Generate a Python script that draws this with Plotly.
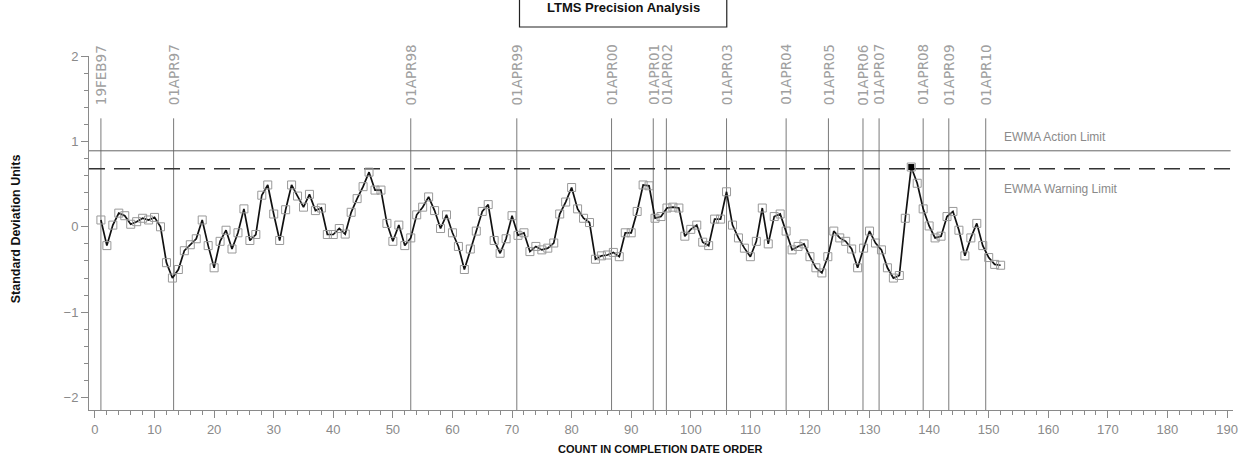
import plotly.graph_objects as go

# ---------------- data ----------------
counts = list(range(1, 153))
ewma = [
    0.08, -0.22, 0.02, 0.16, 0.13, 0.03, 0.06, 0.10, 0.08, 0.11,
    0.00, -0.42, -0.60, -0.50, -0.28, -0.21, -0.14, 0.08, -0.22, -0.48,
    -0.17, -0.04, -0.26, -0.07, 0.21, -0.16, -0.09, 0.37, 0.49, 0.15,
    -0.16, 0.20, 0.49, 0.36, 0.23, 0.38, 0.19, 0.22, -0.09, -0.09,
    -0.02, -0.085, 0.17, 0.33, 0.47, 0.64, 0.43, 0.43, 0.04, -0.17,
    0.02, -0.22, -0.13, 0.14, 0.23, 0.35, 0.19, -0.02, 0.14, -0.07,
    -0.23, -0.50, -0.26, -0.05, 0.18, 0.26, -0.16, -0.31, -0.14, 0.13,
    -0.10, -0.07, -0.29, -0.23, -0.27, -0.25, -0.19, 0.15, 0.29, 0.46,
    0.21, 0.10, 0.05, -0.38, -0.34, -0.33, -0.30, -0.35, -0.07, -0.07,
    0.18, 0.49, 0.48, 0.10, 0.12, 0.22, 0.23, 0.22, -0.11, -0.03,
    0.02, -0.18, -0.22, 0.09, 0.09, 0.41, 0.02, -0.13, -0.25, -0.35,
    -0.17, 0.22, -0.20, 0.12, 0.15, -0.05, -0.27, -0.23, -0.20, -0.35,
    -0.48, -0.54, -0.35, -0.05, -0.13, -0.17, -0.26, -0.48, -0.25, -0.05,
    -0.19, -0.27, -0.48, -0.60, -0.57, 0.10, 0.70, 0.51, 0.21, 0.01,
    -0.13, -0.11, 0.12, 0.18, -0.04, -0.34, -0.13, 0.04, -0.22, -0.36,
    -0.44, -0.45,
]
flag_counts = [137]
ref_dates = ["19FEB97", "01APR97", "01APR98", "01APR99", "01APR00", "01APR01",
             "01APR02", "01APR03", "01APR04", "01APR05", "01APR06", "01APR07",
             "01APR08", "01APR09", "01APR10"]
ref_pos = [1, 13.2, 53, 70.8, 86.7, 93.7, 95.9, 106, 116, 123.1, 128.9, 131.6,
           139, 143.3, 149.5]
action_limit = 0.89
warning_limit = 0.68
x_ticks = list(range(0, 191, 10))
y_ticks = [-2, -1, 0, 1, 2]

# ---------------- figure ----------------
W, H = 1250, 456
L, R, T, B = 89, 13, 56, 46
XR = [-1, 191]
YR = [-2.145, 2.0]

sans = "Liberation Sans, Arial, sans-serif"
gray = "#8a8a8a"

def px_x(px):
    return (px - L) / (W - L - R)

def px_y(py):
    return (H - B - py) / (H - T - B)

fig = go.Figure()

# reference date lines
for p, d in zip(ref_pos, ref_dates):
    fig.add_shape(type="line", xref="x", yref="y", x0=p, x1=p, y0=YR[0], y1=1.27,
                  line=dict(color="#7a7a7a", width=1), layer="below")
    fig.add_annotation(x=p, y=1.40, xref="x", yref="y", text=d, textangle=-90,
                       xanchor="center", yanchor="bottom", showarrow=False,
                       font=dict(family="DejaVu Sans, sans-serif", size=13.5, color="#a0a0a0"))

# limits
fig.add_shape(type="line", xref="x", yref="y", x0=XR[0], x1=190.6, y0=action_limit, y1=action_limit,
              line=dict(color="#666666", width=1), layer="below")
fig.add_shape(type="line", xref="x", yref="y", x0=XR[0], x1=190.6, y0=warning_limit, y1=warning_limit,
              line=dict(color="#333333", width=1.6, dash="16px,9px"), layer="below")
fig.add_annotation(x=152.2, y=1.05, xref="x", yref="y", text="EWMA Action Limit",
                   xanchor="left", yanchor="middle", showarrow=False,
                   font=dict(family=sans, size=12, color=gray))
fig.add_annotation(x=152.2, y=0.44, xref="x", yref="y", text="EWMA Warning Limit",
                   xanchor="left", yanchor="middle", showarrow=False,
                   font=dict(family=sans, size=12, color=gray))

# data
fig.add_trace(go.Scatter(
    x=counts, y=ewma, mode="lines+markers",
    line=dict(color="#111111", width=1.7),
    marker=dict(symbol="square-open", size=8, color="#999999", line=dict(width=1, color="#999999")),
    showlegend=False, hoverinfo="x+y",
))
fig.add_trace(go.Scatter(
    x=flag_counts, y=[ewma[c - 1] for c in flag_counts], mode="markers",
    marker=dict(symbol="square", size=6, color="#000000"),
    showlegend=False,
))

# title box
fig.add_shape(type="rect", xref="paper", yref="paper",
              x0=px_x(521), x1=px_x(729), y0=px_y(27), y1=px_y(-5),
              line=dict(color="#222222", width=1.2), fillcolor="white")
fig.add_annotation(x=px_x(625), y=px_y(7), xref="paper", yref="paper",
                   text="<b>LTMS Precision Analysis</b>", showarrow=False,
                   xanchor="center", yanchor="middle",
                   font=dict(family=sans, size=13, color="#111111"))

# axis titles
fig.add_annotation(x=px_x(16), y=px_y(229), xref="paper", yref="paper",
                   text="<b>Standard Deviation Units</b>", textangle=-90, showarrow=False,
                   xanchor="center", yanchor="middle",
                   font=dict(family=sans, size=12.5, color="#111111"))
fig.add_annotation(x=px_x(662), y=px_y(449), xref="paper", yref="paper",
                   text="<b>COUNT IN COMPLETION DATE ORDER</b>", showarrow=False,
                   xanchor="center", yanchor="middle",
                   font=dict(family=sans, size=11, color="#111111"))

fig.update_layout(
    width=W, height=H,
    margin=dict(l=L, r=R, t=T, b=B, pad=0),
    paper_bgcolor="white", plot_bgcolor="white",
    showlegend=False,
)
fig.update_xaxes(
    range=XR, tickvals=x_ticks, ticktext=[str(v) for v in x_ticks],
    showgrid=False, zeroline=False, showline=True, linecolor=gray, linewidth=1,
    ticks="outside", ticklen=7, tickcolor=gray,
    tickfont=dict(family=sans, size=13, color=gray),
    minor=dict(dtick=2, tick0=0, ticks="outside", ticklen=4, tickcolor=gray, showgrid=False),
)
fig.update_yaxes(
    range=YR, tickvals=y_ticks, ticktext=["\u22122", "\u22121", "0", "1", "2"],
    showgrid=False, zeroline=False, showline=True, linecolor=gray, linewidth=1,
    ticks="outside", ticklen=7, tickcolor=gray,
    tickfont=dict(family=sans, size=13, color=gray),
    minor=dict(dtick=0.2, tick0=0, ticks="outside", ticklen=4, tickcolor=gray, showgrid=False),
)

fig.write_html("out.html", config={"displayModeBar": False},
               post_script="document.body.style.margin='0';document.body.style.padding='0';")
